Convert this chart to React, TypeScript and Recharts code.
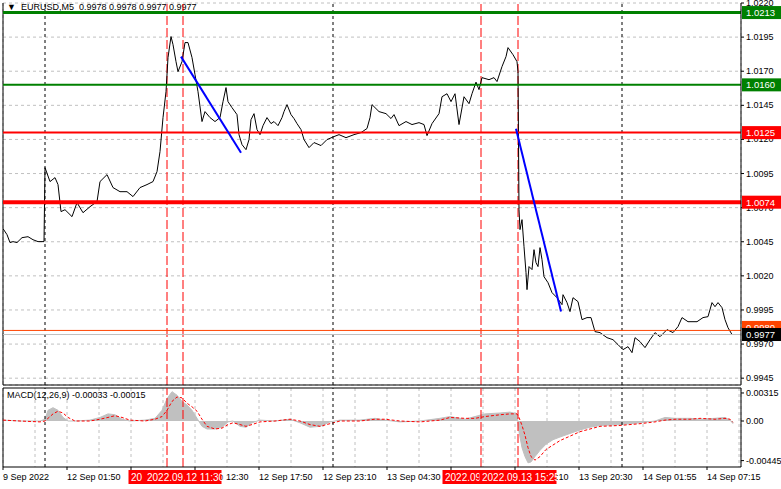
import React from 'react';
import { ComposedChart, Line, Area, XAxis, YAxis, CartesianGrid, ReferenceLine } from 'recharts';

// M5 bars, index = bar offset from the left edge of the chart
const priceBars = [
  0, 4, 7, 10, 14, 19, 25, 30, 35, 41, 42, 47, 52, 55, 58, 62, 69, 74, 80, 87,
  94, 97, 104, 110, 117, 124, 130, 137, 144, 150, 154, 157, 160, 163, 165, 168, 170, 173, 175, 179,
  182, 185, 189, 192, 195, 199, 202, 207, 212, 217, 220, 223, 225, 229, 234, 236, 239, 243, 246, 248,
  251, 254, 257, 260, 264, 268, 271, 275, 279, 281, 284, 288, 291, 294, 298, 301, 306, 311, 318, 324,
  331, 336, 343, 351, 358, 364, 367, 369, 376, 383, 388, 391, 396, 403, 409, 416, 421, 424, 429, 436,
  439, 444, 448, 452, 456, 461, 466, 469, 473, 476, 479, 486, 491, 494, 499, 503, 505, 510, 514, 515,
  516, 517, 519, 521, 523, 524, 526, 529, 531, 533, 535, 537, 539, 541, 545, 549, 554, 559, 560, 564,
  567, 570, 575, 579, 584, 588, 592, 597, 604, 610, 615, 620, 625, 629, 632, 637, 642, 647, 652, 657,
  664, 670, 675, 679, 685, 694, 700, 705, 709, 712, 715, 719, 722, 725, 729,
];
const priceCloses = [
  1.00546, 1.00502, 1.00444, 1.00451, 1.00444, 1.0048, 1.00487, 1.00465, 1.00451, 1.00451,
  1.00993, 1.00891, 1.0092, 1.00869, 1.00671, 1.00685, 1.00634, 1.00737, 1.00663, 1.00707,
  1.00744, 1.00891, 1.00942, 1.00847, 1.00817, 1.00817, 1.00781, 1.00847, 1.00869, 1.00891,
  1.00964, 1.01111, 1.0136, 1.0155, 1.018, 1.01954, 1.01895, 1.0177, 1.01697, 1.0177,
  1.0191, 1.0191, 1.018, 1.01675, 1.0155, 1.01331, 1.01404, 1.0136, 1.01331, 1.0136,
  1.01477, 1.0158, 1.01477, 1.01433, 1.01382, 1.01235, 1.01162, 1.01125, 1.01199, 1.01345,
  1.01389, 1.01272, 1.01235, 1.01301, 1.0136, 1.01316, 1.01331, 1.01301, 1.0136, 1.01404,
  1.01455, 1.01382, 1.01353, 1.01316, 1.01272, 1.01199, 1.0114, 1.01177, 1.01155, 1.01199,
  1.01221, 1.01235, 1.01213, 1.01235, 1.0125, 1.0128, 1.0136, 1.01455, 1.01404, 1.01389,
  1.01353, 1.01382, 1.01301, 1.01331, 1.01309, 1.01323, 1.01309, 1.01228, 1.01316, 1.01389,
  1.01513, 1.01535, 1.01477, 1.01535, 1.01309, 1.01513, 1.01462, 1.01535, 1.0162, 1.01565,
  1.01653, 1.01638, 1.01653, 1.01624, 1.01734, 1.01807, 1.01873, 1.01821, 1.0177, 1.01697,
  1.00685, 1.00539, 1.00612, 1.00414, 1.00224, 1.00099, 1.00268, 1.00246, 1.00392, 1.00297,
  1.00268, 1.00407, 1.00319, 1.00194, 1.0015, 1.00077, 1.0004, 0.99989, 1.00062, 1.00004,
  0.99938, 1.0004, 1.00011, 0.99879, 0.99894, 0.99894, 0.99791, 0.99784, 0.99747, 0.99732,
  0.99696, 0.99659, 0.99681, 0.99637, 0.99747, 0.99718, 0.99674, 0.99732, 0.99784, 0.99754,
  0.99806, 0.99784, 0.99828, 0.99894, 0.99864, 0.99864, 0.99894, 0.99901, 1.00004, 0.99974,
  1.00004, 0.99967, 0.99879, 0.9982, 0.9977,
];

const macdBars = [
  0, 17, 37, 42, 45, 50, 55, 60, 65, 72, 87, 97, 105, 112, 119, 127, 142, 152, 159, 164,
  169, 174, 179, 184, 189, 194, 199, 204, 212, 219, 225, 230, 237, 243, 249, 257, 272, 287, 297, 307,
  317, 327, 337, 357, 372, 382, 397, 417, 437, 447, 462, 472, 482, 497, 507, 514, 516, 519, 522, 525,
  528, 532, 537, 543, 550, 557, 567, 577, 587, 597, 617, 637, 652, 662, 672, 687, 697, 712, 722, 727, 730,
];
const macdMain = [
  0.0001, 0, 0, 0.0002, 0.0012, 0.0015, 0.0012, 0.0004, 0, 0, 0.0001, 0.0004, 0.0008, 0.0007, 0.0002, 0, 0.0001, 0.0003, 0.0012, 0.0025,
  0.0033, 0.0029, 0.0022, 0.0018, 0.0012, 0.0003, -0.0006, -0.0009, -0.0009, -0.0007, -0.0001, 0, -0.0006, -0.0007, -0.0002, 0.0001, 0, 0.0002, -0.0002, -0.0007,
  -0.0006, -0.0001, 0.0001, 0.0001, 0.0003, 0.0001, -0.0001, 0, 0.0003, 0.0005, 0.0002, 0.0005, 0.0008, 0.0009, 0.001, 0.0008, -0.0012, -0.003, -0.004, -0.0047,
  -0.0046, -0.004, -0.0033, -0.0026, -0.0021, -0.0018, -0.0014, -0.001, -0.0007, -0.0005, -0.0004, -0.0002, 0, 0.0004, 0.0003, 0.0003, 0.0002, 0.0003, 0.0004, 0.0001, -0.0003,
];
const macdSignal = [
  0.0001, 0, -0.0001, 0, 0.0003, 0.0008, 0.0011, 0.0009, 0.0004, 0, 0, 0.0002, 0.0004, 0.0006, 0.0004, 0.0001, 0, 0.0002, 0.0005, 0.0012,
  0.0022, 0.0027, 0.0026, 0.002, 0.0016, 0.0011, 0.0002, -0.0006, -0.0009, -0.0008, -0.0004, -0.0002, -0.0004, -0.0006, -0.0004, -0.0001, 0, 0.0002, 0, -0.0004,
  -0.0006, -0.0003, 0, 0, 0.0002, 0.0002, 0, -0.0001, 0.0001, 0.0004, 0.0003, 0.0003, 0.0005, 0.0007, 0.0008, 0.0008, 0.0004, -0.0005, -0.0016, -0.003,
  -0.004, -0.0044, -0.004, -0.0032, -0.0027, -0.0022, -0.0017, -0.0012, -0.0009, -0.0006, -0.0005, -0.0003, -0.0001, 0.0001, 0.0002, 0.0002, 0.0003, 0.0002, 0.0003, 0.0002, -0.00015,
];

const priceTicks = [1.022, 1.0195, 1.017, 1.0145, 1.012, 1.0095, 1.007, 1.0045, 1.002, 0.9995, 0.997, 0.9945];
const macdTicks = [0.00315, 0, -0.00445];
const macdTickLabels = ['0.00315', '0.00', '-0.00445'];
const timeTickBars = [0, 64, 128, 192, 256, 320, 384, 448, 512, 576, 640, 704];
const timeTickLabels = [
  '9 Sep 2022', '12 Sep 01:50', '12 Sep 07:10', '12 Sep 12:30', '12 Sep 17:50', '12 Sep 23:10',
  '13 Sep 04:30', '13 Sep 09:50', '13 Sep 15:10', '13 Sep 20:30', '14 Sep 01:55', '14 Sep 07:15',
];

const levelPrices = [1.0213, 1.016, 1.0125, 1.0074];
const askPrice = 0.998;
const bidPrice = 0.9977;
const daySeparatorBars = [42, 330, 619];
const eventBars = [164, 180, 478, 515];
// tags of the first and third lines are mostly hidden under the next tag
const eventLabels = ['20', '2022.09.12 11:30', '2022.09', '2022.09.13 15:25'];
const trendLines = [
  [[178, 1.01807], [238, 1.01103]],
  [[513, 1.01279], [558, 0.99938]],
];

const W = 781;
const FONT = "'Liberation Sans', Arial, sans-serif";
const PRICE_DOMAIN = [0.994, 1.022];
const MACD_DOMAIN = [-0.00517, 0.00371];
const BAR_DOMAIN = [0, 738];
const gridBars = Array.from({ length: 24 }, (_, i) => i * 32);
const LEVEL_STYLE = [
  { color: '#008000', width: 3 },
  { color: '#008000', width: 2 },
  { color: '#ff0000', width: 2 },
  { color: '#ff0000', width: 4 },
];
const MAIN_H = 386;
const MACD_H = 103;

const priceData = priceBars.map((bar, i) => ({ bar, close: priceCloses[i] }));
const macdData = macdBars.map((bar, i) => ({ bar, main: macdMain[i], signal: macdSignal[i] }));

function PriceTag(props: any) {
  const { viewBox, text, bg, fg, dy = 0 } = props;
  if (!viewBox) return null;
  const x = viewBox.x + viewBox.width;
  const y = viewBox.y + dy;
  return (
    <g>
      <rect x={x + 1} y={y - 6.5} width={40} height={13} fill={bg} />
      <text x={x + 5} y={y + 3.5} fill={fg} fontSize={9.5} fontFamily={FONT}>{text}</text>
    </g>
  );
}

function TimeTag(props: any) {
  const { viewBox, text } = props;
  if (!viewBox) return null;
  const left = viewBox.x - 38.5;
  const bottom = viewBox.y + viewBox.height;
  return (
    <g>
      <rect x={left} y={bottom + 3} width={77} height={14} fill="#ff0000" />
      <text x={left + 2.5} y={bottom + 13.5} fill="#fff" fontSize={10} fontFamily={FONT}>{text}</text>
    </g>
  );
}

function PriceTick(props: any) {
  const { x, y, payload } = props;
  return (
    <text x={x} y={y + 3} fontSize={9} fill="#000" fontFamily={FONT}>
      {Number(payload.value).toFixed(4)}
    </text>
  );
}

function MacdTick(props: any) {
  const { x, y, payload } = props;
  const i = macdTicks.indexOf(payload.value);
  return (
    <text x={x} y={y + 3} fontSize={9} fill="#000" fontFamily={FONT}>
      {i >= 0 ? macdTickLabels[i] : ''}
    </text>
  );
}

function TimeTick(props: any) {
  const { x, y, payload } = props;
  const i = timeTickBars.indexOf(payload.value);
  if (i < 0) return <g />;
  return (
    <g>
      <line x1={x} y1={y} x2={x} y2={y + 3} stroke="#000" />
      <text x={x} y={y + 13} fontSize={9} fill="#000" fontFamily={FONT}>{timeTickLabels[i]}</text>
    </g>
  );
}

function verticalMarkers() {
  return [
    ...daySeparatorBars.map((b) => (
      <ReferenceLine key={'d' + b} x={b} stroke="#000" strokeDasharray="3 3" />
    )),
    ...eventBars.map((b) => (
      <ReferenceLine key={'e' + b} x={b} stroke="#ff0000" strokeDasharray="9 3" />
    )),
  ];
}

const layer = (top: number): React.CSSProperties => ({ position: 'absolute', left: 0, top });

export default function App() {
  return (
    <div style={{ position: 'absolute', left: 0, top: 0, width: W, height: 489, background: '#fff', fontFamily: FONT, overflow: 'hidden' }}>
      <div style={{ position: 'absolute', left: 7, top: 2, fontSize: 9, lineHeight: '11px', color: '#000', whiteSpace: 'pre' }}>
        {'▼  EURUSD,M5  0.9978 0.9978 0.9977 0.9977'}
      </div>
      <div style={{ position: 'absolute', left: 7, top: 390, fontSize: 9, lineHeight: '11px', color: '#000', whiteSpace: 'pre' }}>
        {'MACD(12,26,9) -0.00033 -0.00015'}
      </div>

      {/* price panel */}
      <div style={layer(0)}>
        <ComposedChart width={W} height={MAIN_H} margin={{ top: 3, right: 0, bottom: 0, left: 3 }}>
          <CartesianGrid stroke="#c0c0c0" strokeDasharray="3 3" />
          <XAxis dataKey="bar" type="number" domain={BAR_DOMAIN} ticks={gridBars} interval={0}
            allowDataOverflow tick={false} tickLine={false} height={1} axisLine={{ stroke: '#000' }} />
          <YAxis orientation="right" type="number" domain={PRICE_DOMAIN} ticks={priceTicks} interval={0}
            allowDataOverflow width={40} tickSize={3} tickMargin={2} tickLine={{ stroke: '#000' }}
            axisLine={{ stroke: '#000' }} tick={<PriceTick />} />
          <ReferenceLine x={0} stroke="#000" />
          {verticalMarkers()}
          <Line data={priceData} dataKey="close" stroke="#000" strokeWidth={1} dot={false}
            type="linear" isAnimationActive={false} />
          <ReferenceLine y={askPrice} stroke="#ff4500" />
          <ReferenceLine y={bidPrice} stroke="#c0c0c0" />
          {levelPrices.map((p, i) => (
            <ReferenceLine key={p} y={p} stroke={LEVEL_STYLE[i].color} strokeWidth={LEVEL_STYLE[i].width} />
          ))}
          {trendLines.map((seg, i) => (
            <ReferenceLine key={'t' + i} stroke="#0000ff" strokeWidth={2}
              segment={[{ x: seg[0][0], y: seg[0][1] }, { x: seg[1][0], y: seg[1][1] }]} />
          ))}
        </ComposedChart>
      </div>

      {/* price tags on the axis, drawn over the tick labels */}
      <div style={layer(0)}>
        <ComposedChart width={W} height={MAIN_H} margin={{ top: 3, right: 40, bottom: 1, left: 3 }}>
          <XAxis type="number" dataKey="bar" domain={BAR_DOMAIN} allowDataOverflow hide />
          <YAxis type="number" domain={PRICE_DOMAIN} allowDataOverflow hide />
          <ReferenceLine y={askPrice} stroke="none"
            label={<PriceTag text={askPrice.toFixed(4)} bg="#ff4500" fg="#fff" dy={-3} />} />
          <ReferenceLine y={bidPrice} stroke="none"
            label={<PriceTag text={bidPrice.toFixed(4)} bg="#000" fg="#fff" />} />
          {levelPrices.map((p, i) => (
            <ReferenceLine key={p} y={p} stroke="none"
              label={<PriceTag text={p.toFixed(4)} bg={LEVEL_STYLE[i].color} fg="#fff" />} />
          ))}
        </ComposedChart>
      </div>

      {/* MACD panel */}
      <div style={layer(MAIN_H)}>
        <ComposedChart width={W} height={MACD_H} margin={{ top: 2, right: 0, bottom: 0, left: 3 }}>
          <CartesianGrid stroke="#c0c0c0" strokeDasharray="3 3" horizontal={false} />
          <XAxis dataKey="bar" type="number" domain={BAR_DOMAIN} ticks={gridBars} interval={0}
            allowDataOverflow height={22} tickSize={0} tickMargin={0} tickLine={false}
            axisLine={{ stroke: '#000' }} tick={<TimeTick />} />
          <YAxis orientation="right" type="number" domain={MACD_DOMAIN} ticks={macdTicks} interval={0}
            allowDataOverflow width={40} tickSize={3} tickMargin={2} tickLine={{ stroke: '#000' }}
            axisLine={{ stroke: '#000' }} tick={<MacdTick />} />
          <ReferenceLine x={0} stroke="#000" />
          <ReferenceLine y={MACD_DOMAIN[1]} stroke="#000" />
          <Area data={macdData} dataKey="main" baseValue={0} fill="#c0c0c0" fillOpacity={1}
            stroke="#c0c0c0" type="linear" isAnimationActive={false} />
          <Line data={macdData} dataKey="signal" stroke="#ff0000" strokeDasharray="3 2" dot={false}
            type="linear" isAnimationActive={false} />
          {verticalMarkers()}
        </ComposedChart>
      </div>

      {/* time tags of the event lines, drawn over the time labels */}
      <div style={layer(MAIN_H)}>
        <ComposedChart width={W} height={MACD_H} margin={{ top: 2, right: 40, bottom: 22, left: 3 }}>
          <XAxis type="number" dataKey="bar" domain={BAR_DOMAIN} allowDataOverflow hide />
          <YAxis type="number" domain={MACD_DOMAIN} allowDataOverflow hide />
          {eventBars.map((b, i) => (
            <ReferenceLine key={'l' + b} x={b} stroke="none" label={<TimeTag text={eventLabels[i]} />} />
          ))}
        </ComposedChart>
      </div>
    </div>
  );
}
